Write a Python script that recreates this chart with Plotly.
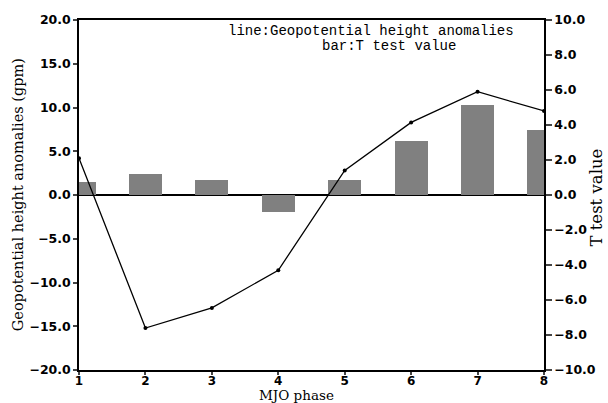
import plotly.graph_objects as go

phases = [1, 2, 3, 4, 5, 6, 7, 8]
gph_anom = [4.2, -15.2, -12.9, -8.6, 2.8, 8.3, 11.8, 9.6]
t_value = [0.72, 1.18, 0.84, -0.97, 0.84, 3.06, 5.16, 3.74]

left_ticks = [-20, -15, -10, -5, 0, 5, 10, 15, 20]
right_ticks = [-10, -8, -6, -4, -2, 0, 2, 4, 6, 8, 10]

tickfont = dict(family="DejaVu Sans", size=12.5, color="black", weight="bold")
xtickfont = dict(family="DejaVu Sans", size=12, color="black", weight="bold")
serif = "DejaVu Serif"

fig = go.Figure()
fig.add_trace(go.Bar(x=phases, y=t_value, width=0.5, marker=dict(color="#808080", line=dict(width=0)),
                     yaxis="y", showlegend=False))
fig.add_trace(go.Scatter(x=phases, y=gph_anom, mode="lines+markers", yaxis="y2",
                         line=dict(color="black", width=1.3), marker=dict(color="black", size=4),
                         showlegend=False))

fig.update_layout(
    width=608, height=403,
    margin=dict(l=79, r=62, t=18, b=33),
    paper_bgcolor="white", plot_bgcolor="white",
    bargap=0,
    xaxis=dict(range=[1, 8], tickvals=phases, ticks="outside", ticklen=3, tickwidth=1.5,
               showline=True, linecolor="black", linewidth=1.5, mirror=True,
               showgrid=False, zeroline=False, tickfont=xtickfont, ticklabelstandoff=-4),
    yaxis=dict(range=[-10, 10], tickvals=right_ticks, tickformat=".1f", side="right",
               ticks="outside", ticklen=6, tickwidth=1.5, showline=True, linecolor="black",
               linewidth=1.5, showgrid=False, zeroline=True, zerolinecolor="black",
               zerolinewidth=1.5, tickfont=tickfont),
    yaxis2=dict(range=[-20, 20], tickvals=left_ticks, tickformat=".1f", side="left",
                overlaying="y", ticks="outside", ticklen=4, tickwidth=1.5, showline=True,
                linecolor="black", linewidth=1.5, showgrid=False, zeroline=False,
                tickfont=tickfont),
    annotations=[
        dict(text="line:Geopotential height anomalies", xref="paper", yref="paper",
             x=0.627, y=0.969, xanchor="center", yanchor="middle", showarrow=False,
             font=dict(family="Liberation Mono", size=14, color="black")),
        dict(text="bar:T test value", xref="paper", yref="paper",
             x=0.666, y=0.926, xanchor="center", yanchor="middle", showarrow=False,
             font=dict(family="Liberation Mono", size=14, color="black")),
        dict(text="Geopotential height anomalies (gpm)", xref="paper", yref="paper",
             x=-0.1306, y=0.5, xanchor="center", yanchor="middle", textangle=-90,
             showarrow=False, font=dict(family=serif, size=14.5, color="black")),
        dict(text="T test value", xref="paper", yref="paper",
             x=1.113, y=0.4915, xanchor="center", yanchor="middle", textangle=-90,
             showarrow=False, font=dict(family=serif, size=16.5, color="black")),
        dict(text="MJO phase", xref="paper", yref="paper",
             x=0.4668, y=-0.0724, xanchor="center", yanchor="middle",
             showarrow=False, font=dict(family=serif, size=13.5, color="black")),
    ],
)

fig.write_html("out.html")
